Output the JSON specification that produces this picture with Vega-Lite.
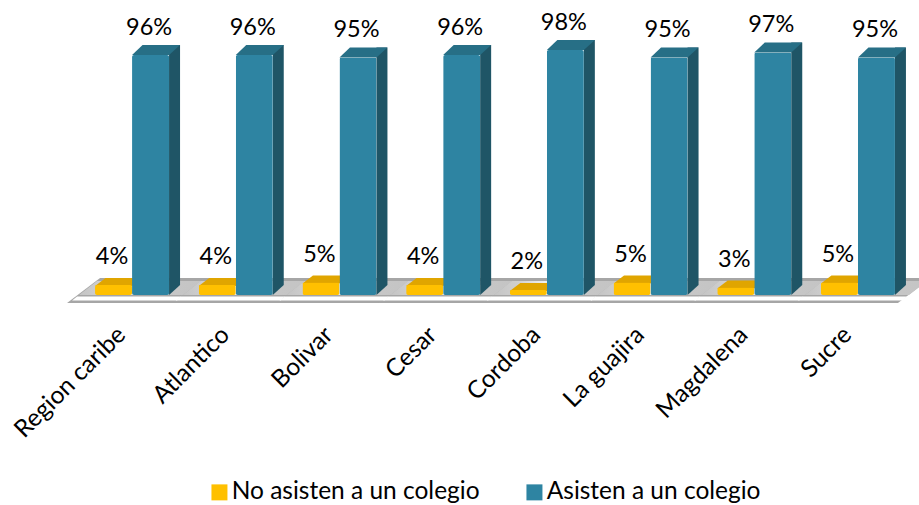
{
"$schema":"https://vega.github.io/schema/vega-lite/v6.json",
"width":829.6,"height":250,
"autosize":{"type":"none"},
"padding":{"left":80.2,"top":45,"right":9,"bottom":210},
"background":"white",
"data":{"values":[
{"region":"Region caribe","serie":"No asisten a un colegio","value":0.04},
{"region":"Atlantico","serie":"No asisten a un colegio","value":0.04},
{"region":"Bolivar","serie":"No asisten a un colegio","value":0.05},
{"region":"Cesar","serie":"No asisten a un colegio","value":0.04},
{"region":"Cordoba","serie":"No asisten a un colegio","value":0.02},
{"region":"La guajira","serie":"No asisten a un colegio","value":0.05},
{"region":"Magdalena","serie":"No asisten a un colegio","value":0.03},
{"region":"Sucre","serie":"No asisten a un colegio","value":0.05},
{"region":"Region caribe","serie":"Asisten a un colegio","value":0.96},
{"region":"Atlantico","serie":"Asisten a un colegio","value":0.96},
{"region":"Bolivar","serie":"Asisten a un colegio","value":0.95},
{"region":"Cesar","serie":"Asisten a un colegio","value":0.96},
{"region":"Cordoba","serie":"Asisten a un colegio","value":0.98},
{"region":"La guajira","serie":"Asisten a un colegio","value":0.95},
{"region":"Magdalena","serie":"Asisten a un colegio","value":0.97},
{"region":"Sucre","serie":"Asisten a un colegio","value":0.95}
]},
"encoding":{
"x":{"field":"region","type":"nominal","sort":null,"scale":{"paddingInner":0.286,"paddingOuter":0.143},
"axis":{"title":null,"domain":false,"ticks":false,"grid":false,"labelAngle":-45,"labelAlign":"right","labelBaseline":"middle","labelFont":"Lato","labelFontSize":24.5,"labelColor":"#000000","labelPadding":36,"labelOffset":-10,"labelLimit":300}}
},
"layer":[
{"transform":[{"filter":"datum.serie==='Asisten a un colegio'"}],
"mark":{"type":"point","filled":true,"opacity":1,"size":4,"strokeWidth":0,"fill":"#A6A6A6",
"shape":"M-32,-17 L73,-17 L40,8 L-65,8 Z"},
"encoding":{"y":{"datum":0,"type":"quantitative","scale":{"domain":[0,1]},"axis":null}}},
{"transform":[{"filter":"datum.serie==='Asisten a un colegio'"}],
"mark":{"type":"point","filled":true,"opacity":1,"size":4,"strokeWidth":0,
"fill":{"gradient":"linear","x1":0,"y1":0,"x2":1,"y2":0,"stops":[{"offset":0,"color":"#C4C4C4"},{"offset":0.2,"color":"#D0D0D0"},{"offset":0.42,"color":"#EFEFEF"},{"offset":0.6,"color":"#C8C8C8"},{"offset":1,"color":"#C4C4C4"}]},
"shape":"M-35,-14 L69,-14 L51,0 L-53,0 Z"},
"encoding":{"y":{"datum":0,"type":"quantitative","scale":{"domain":[0,1]},"axis":null}}},
{"transform":[{"filter":"datum.serie==='Asisten a un colegio'"}],
"mark":{"type":"point","filled":true,"opacity":1,"size":4,"strokeWidth":0,"fill":"#FFFFFF",
"shape":"M-55,1.5 L49,1.5 L45,5.5 L-60,5.5 Z"},
"encoding":{"y":{"datum":0,"type":"quantitative","scale":{"domain":[0,1]},"axis":null}}},
{"transform":[{"filter":"datum.serie==='No asisten a un colegio'"}],
"mark":{"type":"point","filled":true,"opacity":1,"size":4,"strokeWidth":0,"fill":"#E0A500",
"shape":"M-18.5,1 L-8,-7 L30,-7 L18.5,1 Z"},
"encoding":{"xOffset":{"field":"serie","sort":["No asisten a un colegio","Asisten a un colegio"],"scale":{"paddingInner":0,"paddingOuter":0}},
"y":{"field":"value","type":"quantitative","scale":{"domain":[0,1]},"axis":null}}},
{"transform":[{"filter":"datum.serie==='Asisten a un colegio'"}],
"mark":{"type":"bar","width":11,"xOffset":42.5,"yOffset":-10,"fill":"#1F5566"},
"encoding":{"y":{"field":"value","type":"quantitative","scale":{"domain":[0,1]},"axis":null}}},
{"transform":[{"filter":"datum.serie==='Asisten a un colegio'"}],
"mark":{"type":"point","filled":true,"opacity":1,"size":4,"strokeWidth":0,"fill":"#1F5566",
"shape":"M18.5,0 L29.5,-10 L18.5,-10 Z"},
"encoding":{"xOffset":{"field":"serie","sort":["No asisten a un colegio","Asisten a un colegio"],"scale":{"paddingInner":0,"paddingOuter":0}},
"y":{"datum":0,"type":"quantitative","scale":{"domain":[0,1]},"axis":null}}},
{"transform":[{"filter":"datum.serie==='Asisten a un colegio'"}],
"mark":{"type":"point","filled":true,"opacity":1,"size":4,"strokeWidth":0,"fill":"#276F86",
"shape":"M-18.5,0 L-8,-10 L29.5,-10 L18.5,0 Z"},
"encoding":{"xOffset":{"field":"serie","sort":["No asisten a un colegio","Asisten a un colegio"],"scale":{"paddingInner":0,"paddingOuter":0}},
"y":{"field":"value","type":"quantitative","scale":{"domain":[0,1]},"axis":null}}},
{"mark":{"type":"bar","cornerRadius":2},
"encoding":{"xOffset":{"field":"serie","sort":["No asisten a un colegio","Asisten a un colegio"],"scale":{"paddingInner":0,"paddingOuter":0}},
"y":{"field":"value","type":"quantitative","scale":{"domain":[0,1]},"axis":null},
"color":{"field":"serie","type":"nominal","scale":{"domain":["No asisten a un colegio","Asisten a un colegio"],"range":["#FFC000","#2E84A2"]},
"legend":{"title":null,"orient":"none","legendX":127,"legendY":435,"direction":"horizontal","columns":2,"symbolType":"square","symbolSize":256,"symbolStrokeWidth":0,"labelFont":"Lato","labelFontSize":24.5,"labelColor":"#000000","labelLimit":400,"columnPadding":42,"labelOffset":0}}}},
{"mark":{"type":"text","font":"Lato","fontSize":23.5,"color":"#000000","dy":-27.5,"dx":-1.5},
"encoding":{"xOffset":{"field":"serie","sort":["No asisten a un colegio","Asisten a un colegio"],"scale":{"paddingInner":0,"paddingOuter":0}},
"y":{"field":"value","type":"quantitative","scale":{"domain":[0,1]},"axis":null},
"text":{"field":"value","type":"quantitative","format":".0%"}}}
],
"config":{"view":{"stroke":null}}
}
